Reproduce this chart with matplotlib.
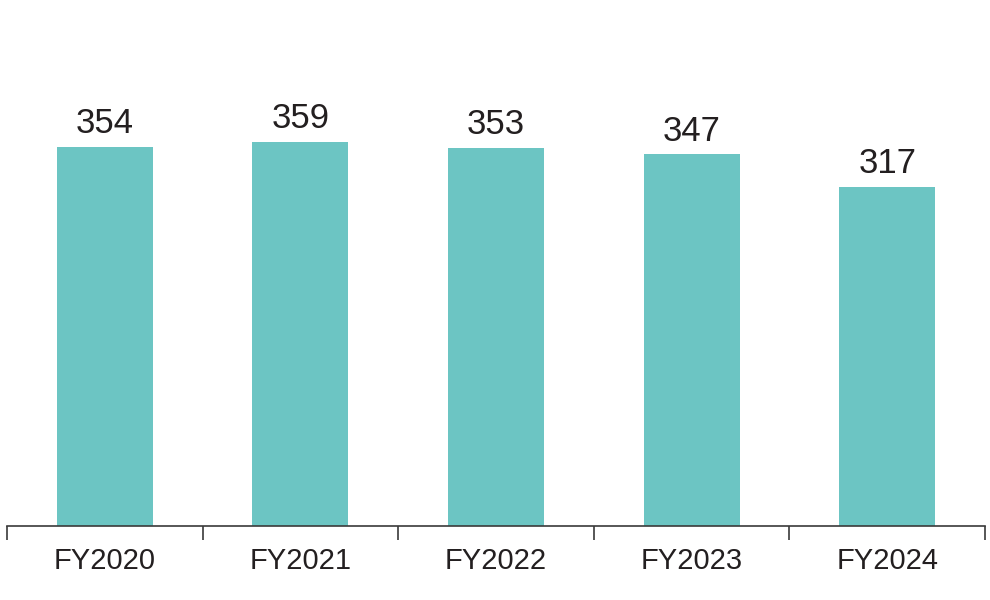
import matplotlib
matplotlib.use("Agg")
import matplotlib.pyplot as plt

categories = ["FY2020", "FY2021", "FY2022", "FY2023", "FY2024"]
values = [354, 359, 353, 347, 317]

plt.rcParams['font.family'] = ['Liberation Sans', 'DejaVu Sans']

fig = plt.figure(figsize=(9.9, 6.0), dpi=100)
ax = fig.add_axes([7/990, 74/600, 978/990, 526/600])

x = list(range(len(categories)))
bar_color = "#6CC5C3"
text_color = "#231F20"
bars = ax.bar(x, values, width=0.49, color=bar_color, zorder=2)

ax.set_xlim(-0.5, len(categories) - 0.5)
ax.set_ylim(0, 526 / (379 / 354))

for xi, v in zip(x, values):
    ax.annotate(str(v), (xi, v), xytext=(0, 10), textcoords="offset points",
                ha="center", va="baseline", fontsize=25, color=text_color)

for s in ["top", "right", "left"]:
    ax.spines[s].set_visible(False)
ax.spines["bottom"].set_color("#3a3a3a")
ax.spines["bottom"].set_linewidth(1.2)
ax.set_yticks([])

boundaries = [i - 0.5 for i in range(len(categories) + 1)]
ax.set_xticks(boundaries)
ax.set_xticklabels([""] * len(boundaries))
ax.tick_params(axis="x", which="major", length=10, width=1.2, color="#3a3a3a")
ax.set_xticks(x, minor=True)
ax.set_xticklabels(categories, minor=True, fontsize=21, color=text_color)
ax.tick_params(axis="x", which="minor", length=0, pad=15)

fig.savefig("out.png", dpi=100)
